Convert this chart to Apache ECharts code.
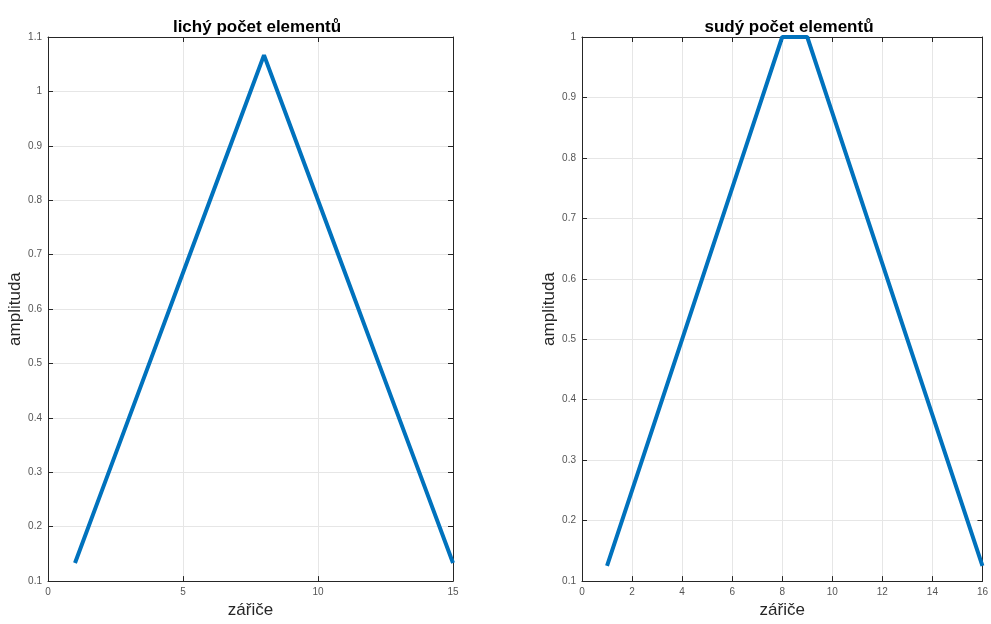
<!DOCTYPE html>
<html>
<head>
<meta charset="utf-8">
<script src="https://cdn.jsdelivr.net/npm/echarts@6/dist/echarts.min.js"></script>
<style>
  html, body { margin: 0; padding: 0; background: #fff; overflow: hidden; }
  #chart { width: 991px; height: 624px; }
</style>
</head>
<body>
<div id="chart"></div>
<script>
// Element indices and amplitude weights
const oddElements = [1,2,3,4,5,6,7,8,9,10,11,12,13,14,15];
const oddAmplitude = [0.1333,0.2667,0.4,0.5333,0.6667,0.8,0.9333,1.0667,0.9333,0.8,0.6667,0.5333,0.4,0.2667,0.1333];
const evenElements = [1,2,3,4,5,6,7,8,9,10,11,12,13,14,15,16];
const evenAmplitude = [0.125,0.25,0.375,0.5,0.625,0.75,0.875,1,1,0.875,0.75,0.625,0.5,0.375,0.25,0.125];

const titles = ['lichý počet elementů', 'sudý počet elementů'];
const xName = 'zářiče';
const yName = 'amplituda';

const FONT = 'Liberation Sans, Arial, sans-serif';
const BOX = '#262626';
const GRID = '#e6e6e6';
const LABEL = '#555555';
const LINE = '#0072BD';

function fmt(v) { return String(parseFloat(v.toFixed(2))); }

function pairs(xs, ys) { return xs.map((x, i) => [x, ys[i]]); }

function mainX(gi, max, interval) {
  return {
    type: 'value', gridIndex: gi, min: 0, max: max, interval: interval,
    name: xName, nameLocation: 'middle', nameGap: 20,
    nameTextStyle: { fontFamily: FONT, fontSize: 17, color: '#262626' },
    axisLine: { show: true, onZero: false, lineStyle: { color: BOX, width: 1 } },
    axisTick: { show: true, inside: true, length: 5, lineStyle: { color: BOX } },
    axisLabel: { fontFamily: FONT, fontSize: 10, color: LABEL, margin: 6, formatter: fmt },
    splitLine: { show: true, lineStyle: { color: GRID, width: 1 } }
  };
}
function topX(gi, max, interval) {
  return {
    type: 'value', gridIndex: gi, position: 'top', min: 0, max: max, interval: interval,
    axisLine: { show: true, onZero: false, lineStyle: { color: BOX, width: 1 } },
    axisTick: { show: true, inside: true, length: 5, lineStyle: { color: BOX } },
    axisLabel: { show: false }, splitLine: { show: false }
  };
}
function mainY(gi, max, gap) {
  return {
    type: 'value', gridIndex: gi, min: 0.1, max: max, interval: 0.1,
    name: yName, nameLocation: 'middle', nameGap: gap, nameRotate: 90,
    nameTextStyle: { fontFamily: FONT, fontSize: 17, color: '#262626' },
    axisLine: { show: true, onZero: false, lineStyle: { color: BOX, width: 1 } },
    axisTick: { show: true, inside: true, length: 5, lineStyle: { color: BOX } },
    axisLabel: { fontFamily: FONT, fontSize: 10, color: LABEL, margin: 6, formatter: fmt },
    splitLine: { show: true, lineStyle: { color: GRID, width: 1 } }
  };
}
function rightY(gi, max) {
  return {
    type: 'value', gridIndex: gi, position: 'right', min: 0.1, max: max, interval: 0.1,
    axisLine: { show: true, onZero: false, lineStyle: { color: BOX, width: 1 } },
    axisTick: { show: true, inside: true, length: 5, lineStyle: { color: BOX } },
    axisLabel: { show: false }, splitLine: { show: false }
  };
}

const chart = echarts.init(document.getElementById('chart'), null, { renderer: 'canvas' });
chart.setOption({
  animation: false,
  backgroundColor: '#ffffff',
  title: [
    { text: titles[0], left: 252, top: 14, textAlign: 'center',
      textStyle: { fontFamily: FONT, fontSize: 17, fontWeight: 'bold', color: '#000' } },
    { text: titles[1], left: 784, top: 14, textAlign: 'center',
      textStyle: { fontFamily: FONT, fontSize: 17, fontWeight: 'bold', color: '#000' } }
  ],
  grid: [
    { left: 48, right: 538, top: 37, bottom: 39 },
    { left: 582, right: 5, top: 37, bottom: 39 }
  ],
  xAxis: [mainX(0, 15, 5), topX(0, 15, 5), mainX(1, 16, 2), topX(1, 16, 2)],
  yAxis: [mainY(0, 1.1, 22), rightY(0, 1.1), mainY(1, 1.0, 23), rightY(1, 1.0)],
  series: [
    { type: 'line', xAxisIndex: 0, yAxisIndex: 0, data: pairs(oddElements, oddAmplitude),
      showSymbol: false, lineStyle: { color: LINE, width: 4 }, itemStyle: { color: LINE } },
    { type: 'line', xAxisIndex: 2, yAxisIndex: 2, data: pairs(evenElements, evenAmplitude),
      showSymbol: false, lineStyle: { color: LINE, width: 4 }, itemStyle: { color: LINE } }
  ]
});
</script>
</body>
</html>
